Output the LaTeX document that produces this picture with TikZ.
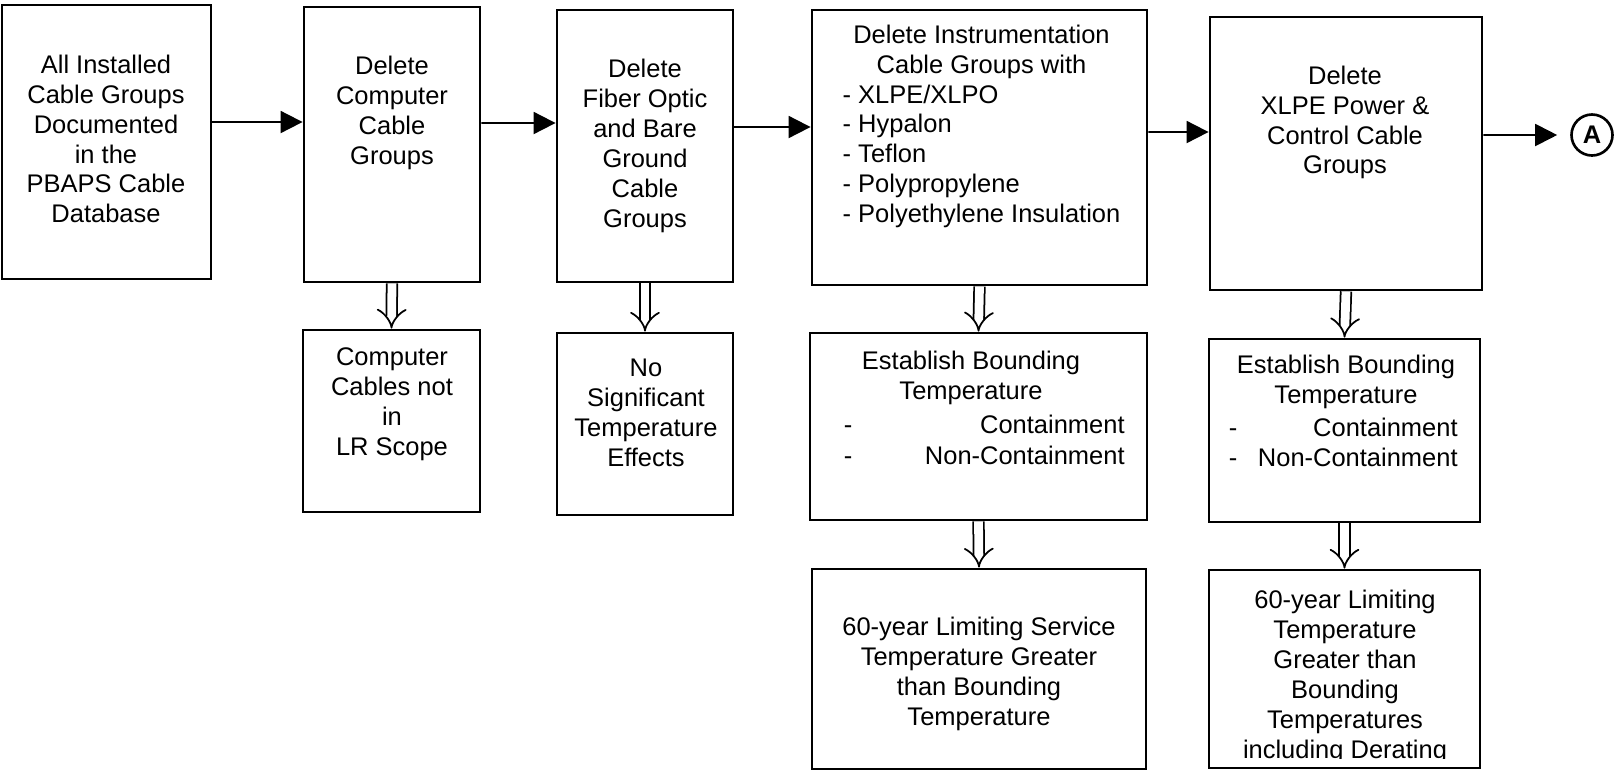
\documentclass[tikz,border=0pt]{standalone}
\usepackage{fontspec}
\setmainfont{Liberation Sans}
\usetikzlibrary{arrows.meta}

\tikzset{
  box/.style={draw, line width=1.6pt, inner sep=0pt},
  txt/.style={align=center, inner sep=0pt, font=\fontsize{14.5}{17}\selectfont},
  arr/.style={line width=1.1pt, -{Triangle[length=0.44cm,width=0.44cm]}},
  dbl/.style={double, double distance=5pt, line width=1pt, -{Implies}},
}

\begin{document}
\begin{tikzpicture}
\useasboundingbox (0,0) rectangle (32.32,-15.46);
% top row
\node[box, minimum width=4.18cm, minimum height=5.48cm] (all) at (2.13,-2.84) {};
\node[txt] (allt) at (2.12,-2.78) {All Installed\\Cable Groups\\Documented\\in the\\PBAPS Cable\\Database};
\node[box, minimum width=3.52cm, minimum height=5.5cm] (comp) at (7.84,-2.89) {};
\node[txt] (compt) at (7.84,-2.26) {Delete\\Computer\\Cable\\Groups};
\node[box, minimum width=3.52cm, minimum height=5.44cm] (fib) at (12.9,-2.92) {};
\node[txt] (fibt) at (12.9,-2.92) {Delete\\Fiber Optic\\and Bare\\Ground\\Cable\\Groups};
\node[box, minimum width=6.7cm, minimum height=5.5cm] (inst) at (19.59,-2.95) {};
\node[txt] (instt) at (19.63,-2.54) {\begin{tabular}{@{}l@{}}
\multicolumn{1}{@{}c@{}}{Delete Instrumentation}\\
\multicolumn{1}{@{}c@{}}{Cable Groups with}\\
- XLPE/XLPO\\
- Hypalon\\
- Teflon\\
- Polypropylene\\
- Polyethylene Insulation
\end{tabular}};
\node[box, minimum width=5.44cm, minimum height=5.46cm] (xlpe) at (26.92,-3.07) {};
\node[txt] (xlpet) at (26.9,-2.45) {Delete\\XLPE Power \&\\Control Cable\\Groups};
\node[draw, circle, line width=1.5pt, minimum size=0.82cm, inner sep=0pt, font=\fontsize{14.5}{17}\selectfont\bfseries] (a) at (31.84,-2.7) {A};

% second row
\node[box, minimum width=3.54cm, minimum height=3.64cm] (compr) at (7.83,-8.42) {};
\node[txt] (comprt) at (7.84,-8.08) {Computer\\Cables not\\in\\LR Scope};
\node[box, minimum width=3.52cm, minimum height=3.64cm] (fibr) at (12.9,-8.48) {};
\node[txt] (fibrt) at (12.92,-8.26) {No\\Significant\\Temperature\\Effects};
\node[box, minimum width=6.74cm, minimum height=3.74cm] (instb) at (19.57,-8.53) {};
\node[txt] (instbt) at (19.42,-7.55) {Establish Bounding\\Temperature};
\node[txt, anchor=east] (instc1) at (22.5,-8.48) {Containment};
\node[txt, anchor=base] (instd1) at (16.96,0 |- instc1.base) {-};
\node[txt, anchor=east] (instc2) at (22.5,-9.1) {Non-Containment};
\node[txt, anchor=base] (instd2) at (16.96,0 |- instc2.base) {-};
\node[box, minimum width=5.42cm, minimum height=3.66cm] (xlpeb) at (26.89,-8.61) {};
\node[txt] (xlpebt) at (26.92,-7.64) {Establish Bounding\\Temperature};
\node[txt, anchor=east] (xlpec1) at (29.16,-8.54) {Containment};
\node[txt, anchor=base] (xlped1) at (24.66,0 |- xlpec1.base) {-};
\node[txt, anchor=east] (xlpec2) at (29.16,-9.14) {Non-Containment};
\node[txt, anchor=base] (xlped2) at (24.66,0 |- xlpec2.base) {-};

% third row
\node[box, minimum width=6.68cm, minimum height=4cm] (instl) at (19.58,-13.38) {};
\node[txt] (instlt) at (19.58,-13.48) {60-year Limiting Service\\Temperature Greater\\than Bounding\\Temperature};
\node[box, minimum width=5.42cm, minimum height=3.96cm] (xlpel) at (26.89,-13.38) {};
\begin{scope}
\clip (24.2,-11.42) rectangle (29.6,-15.16);
\node[txt] (xlpelt) at (26.9,-13.54) {60-year Limiting\\Temperature\\Greater than\\Bounding\\Temperatures\\including Derating};
\end{scope}

% connectors
\draw[arr] ([yshift=0.4cm]all.east) -- ([yshift=0.45cm]comp.west);
\draw[arr] ([yshift=0.43cm]comp.east) -- ([yshift=0.46cm]fib.west);
\draw[arr] ([yshift=0.38cm]fib.east) -- ([yshift=0.41cm]inst.west);
\draw[arr] ([yshift=0.31cm]inst.east) -- ([yshift=0.43cm]xlpe.west);
\draw[arr, shorten >=0.26cm] ([yshift=0.37cm]xlpe.east) -- (a.west);
\draw[dbl] (comp.south) -- (compr.north);
\draw[dbl] (fib.south) -- (fibr.north);
\draw[dbl] (inst.south) -- (instb.north);
\draw[dbl] (xlpe.south) -- (xlpeb.north);
\draw[dbl] (instb.south) -- (instl.north);
\draw[dbl] (xlpeb.south) -- (xlpel.north);
\end{tikzpicture}
\end{document}
